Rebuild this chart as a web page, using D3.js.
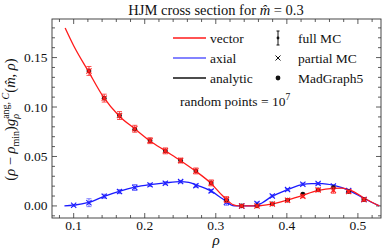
<!DOCTYPE html>
<html>
<head>
<meta charset="utf-8">
<script src="https://cdn.jsdelivr.net/npm/d3@7"></script>
<style>
  body { margin: 0; background: #fff; }
  svg text { font-family: "Liberation Serif", "DejaVu Serif", serif; fill: #111; }
</style>
</head>
<body>
<svg id="chart" width="382" height="250"></svg>
<script>
// analytic curves
const vectorCurveX = [0.088, 0.1, 0.12, 0.142, 0.164, 0.186, 0.207, 0.229, 0.25, 0.271, 0.293, 0.31, 0.325, 0.332, 0.358, 0.378, 0.40, 0.42, 0.443, 0.465, 0.478, 0.49, 0.51, 0.53];
const vectorCurveY = [0.180, 0.162, 0.137, 0.110, 0.091, 0.078, 0.066, 0.0557, 0.046, 0.0355, 0.023, 0.010, 0.001, 0, 0, 0.0018, 0.0058, 0.0102, 0.0155, 0.0178, 0.018, 0.0158, 0.0075, 0];
const axialCurveX = [0.087, 0.1, 0.121, 0.142, 0.164, 0.186, 0.207, 0.229, 0.25, 0.262, 0.275, 0.293, 0.31, 0.326, 0.354, 0.365, 0.378, 0.40, 0.42, 0.435, 0.45, 0.465, 0.488, 0.51, 0.53];
const axialCurveY = [0, 0.0007, 0.0035, 0.0095, 0.0148, 0.019, 0.0215, 0.0233, 0.0245, 0.0238, 0.0205, 0.0152, 0.007, 0, 0, 0.003, 0.0092, 0.0162, 0.0212, 0.0226, 0.0226, 0.021, 0.0155, 0.007, 0];

// MC sample points
const rhoPoints = [0.1, 0.1215, 0.143, 0.1645, 0.186, 0.2075, 0.229, 0.2505, 0.272, 0.2935, 0.315, 0.3365, 0.358, 0.3795, 0.401, 0.4225, 0.444, 0.4655, 0.487, 0.5085];
const vectorMC = [null, 0.1365, 0.109, 0.0914, 0.078, 0.066, 0.0557, 0.0459, 0.0354, 0.0233, 0.0064, 0, 0, 0.002, 0.0058, 0.0098, 0.0162, 0.0159, 0.0145, 0.0064];
const vectorErr = [null, 0.0045, 0.004, 0.004, 0.0035, 0.003, 0.003, 0.0025, 0.003, 0.003, 0.003, 0.001, 0.001, 0.0015, 0.0015, 0.0015, 0.0015, 0.003, 0.0015, 0.0015];
const vectorMG5 = [null, 0.1365, 0.109, 0.0914, 0.0776, 0.066, 0.0557, 0.0459, 0.0354, 0.0233, 0.006, 0, 0, 0.002, 0.0058, 0.012, 0.0162, 0.0185, 0.0145, 0.0064];
const axialMC = [0.0007, 0.0033, 0.0098, 0.0145, 0.0186, 0.0213, 0.023, 0.0246, 0.0205, 0.0152, 0.0037, 0, 0.0024, 0.0101, 0.0165, 0.022, 0.0226, 0.0202, 0.0155, 0.0064];
const axialErr = [0.0005, 0.004, 0.002, 0.002, 0.003, 0.0015, 0.0015, 0.0012, 0.0015, 0.0015, 0.003, 0.001, 0.0015, 0.001, 0.001, 0.001, 0.001, 0.001, 0.001, 0.001];

const xTicks = [0.1, 0.2, 0.3, 0.4, 0.5];
const yTicks = [0, 0.05, 0.10, 0.15];

const svg = d3.select('#chart');
const pLeft = 52, pRight = 381, pTop = 19, pBottom = 218;

const x = d3.scaleLinear().domain([0.0695, 0.5325]).range([pLeft, pRight]);
const y = d3.scaleLinear().domain([-0.0122, 0.189]).range([pBottom, pTop]);

// title
svg.append('text')
    .attr('x', 216).attr('y', 15)
    .attr('text-anchor', 'middle')
    .style('font-size', '14.5px')
    .html('HJM cross section for <tspan font-style="italic">m\u0302</tspan> = 0.3');

// frame ticks, inward on all four sides
const minorX = d3.range(0.08, 0.531, 0.02);
const minorY = d3.range(-0.01, 0.1891, 0.01);
const tickG = svg.append('g').attr('stroke', '#333').attr('stroke-width', 0.8);
minorX.forEach(v => {
    const major = xTicks.some(t => Math.abs(t - v) < 1e-6);
    const len = major ? 5 : 3;
    tickG.append('line').attr('x1', x(v)).attr('x2', x(v)).attr('y1', pBottom).attr('y2', pBottom - len);
    tickG.append('line').attr('x1', x(v)).attr('x2', x(v)).attr('y1', pTop).attr('y2', pTop + len);
});
minorY.forEach(v => {
    const major = yTicks.some(t => Math.abs(t - v) < 1e-6);
    const len = major ? 5 : 3;
    tickG.append('line').attr('y1', y(v)).attr('y2', y(v)).attr('x1', pLeft).attr('x2', pLeft + len);
    tickG.append('line').attr('y1', y(v)).attr('y2', y(v)).attr('x1', pRight).attr('x2', pRight - len);
});

svg.append('rect')
    .attr('x', pLeft).attr('y', pTop)
    .attr('width', pRight - pLeft).attr('height', pBottom - pTop)
    .attr('fill', 'none').attr('stroke', '#333').attr('stroke-width', 0.9);

// tick labels
svg.selectAll('.xl').data(xTicks).enter().append('text')
    .attr('x', d => x(d)).attr('y', 229.5)
    .attr('text-anchor', 'middle')
    .style('font-size', '13.5px')
    .text(d => d3.format('.1f')(d));
svg.selectAll('.yl').data(yTicks).enter().append('text')
    .attr('x', pLeft - 4.5).attr('y', d => y(d) + 4.5)
    .attr('text-anchor', 'end')
    .style('font-size', '13.5px')
    .text(d => d3.format('.2f')(d));

// axis labels
svg.append('text')
    .attr('x', 216).attr('y', 245)
    .attr('text-anchor', 'middle')
    .style('font-size', '15px').style('font-style', 'italic')
    .text('ρ');

const yl = svg.append('text')
    .attr('transform', 'translate(15,' + ((pTop + pBottom) / 2 + 1) + ') rotate(-90)')
    .attr('text-anchor', 'middle')
    .style('font-size', '14.5px');
yl.append('tspan').text('(');
yl.append('tspan').attr('font-style', 'italic').text('ρ');
yl.append('tspan').text(' − ');
yl.append('tspan').attr('font-style', 'italic').text('ρ');
yl.append('tspan').attr('dy', 3.5).style('font-size', '10px').text('min');
yl.append('tspan').attr('dy', -3.5).text(')');
yl.append('tspan').attr('font-style', 'italic').text('g');
const sup = yl.append('tspan').attr('dy', -6).style('font-size', '10px').text('ang, ');
const supC = yl.append('tspan').style('font-size', '10px').attr('font-style', 'italic').text('C');
const supW = sup.node().getComputedTextLength() + supC.node().getComputedTextLength();
const sub = yl.append('tspan').attr('dy', 10).attr('dx', -supW).style('font-size', '10px').attr('font-style', 'italic').text('ρ');
const subW = sub.node().getComputedTextLength();
yl.append('tspan').attr('dy', -4).attr('dx', supW - subW).text('(');
yl.append('tspan').attr('font-style', 'italic').text('m\u0302');
yl.append('tspan').text(', ');
yl.append('tspan').attr('font-style', 'italic').text('ρ');
yl.append('tspan').text(')');

// curves
const line = d3.line().x(d => x(d[0])).y(d => y(d[1])).curve(d3.curveMonotoneX);
const plot = svg.append('g');
plot.append('path')
    .attr('d', line(d3.zip(axialCurveX, axialCurveY)))
    .attr('fill', 'none').attr('stroke', '#1a1aff').attr('stroke-width', 1.3);
plot.append('path')
    .attr('d', line(d3.zip(vectorCurveX, vectorCurveY)))
    .attr('fill', 'none').attr('stroke', '#ff1a1a').attr('stroke-width', 1.3);

// error bars + crosses
function drawSeries(vals, errs, barColor, crossColor) {
    const g = plot.append('g');
    rhoPoints.forEach((r, i) => {
        if (vals[i] == null) return;
        const cx = x(r), cy = y(vals[i]);
        const y0 = y(vals[i] - errs[i]), y1 = y(vals[i] + errs[i]);
        g.append('line').attr('x1', cx).attr('x2', cx).attr('y1', y0).attr('y2', y1)
            .attr('stroke', barColor).attr('stroke-width', 1.2);
        [y0, y1].forEach(yy => g.append('line')
            .attr('x1', cx - 2.5).attr('x2', cx + 2.5).attr('y1', yy).attr('y2', yy)
            .attr('stroke', barColor).attr('stroke-width', 1));
        g.append('circle').attr('cx', cx).attr('cy', cy).attr('r', 1.6).attr('fill', barColor);
        g.append('path')
            .attr('d', `M${cx - 2.6},${cy - 2.6}L${cx + 2.6},${cy + 2.6}M${cx - 2.6},${cy + 2.6}L${cx + 2.6},${cy - 2.6}`)
            .attr('stroke', crossColor).attr('stroke-width', 1.1);
    });
}
drawSeries(axialMC, axialErr, 'rgba(90,90,255,0.75)', '#1a1aff');
plot.append('g').selectAll('circle')
    .data(rhoPoints.map((r, i) => [r, vectorMG5[i]]).filter(d => d[1] != null))
    .enter().append('circle')
    .attr('cx', d => x(d[0])).attr('cy', d => y(d[1]))
    .attr('r', 2.4).attr('fill', '#111');
drawSeries(vectorMC, vectorErr, 'rgba(255,40,40,0.8)', '#ff1a1a');

// legend
const legend = svg.append('g').style('font-size', '13.5px');
const legLines = [['vector', '#ff1a1a'], ['axial', '#5a5aff'], ['analytic', '#111']];
legLines.forEach((d, i) => {
    const ly = 38 + i * 20;
    legend.append('line').attr('x1', 173).attr('x2', 206).attr('y1', ly).attr('y2', ly)
        .attr('stroke', d[1]).attr('stroke-width', 1.3);
    legend.append('text').attr('x', 210).attr('y', ly + 4.5).text(d[0]);
});
const sx = 278;
legend.append('line').attr('x1', sx).attr('x2', sx).attr('y1', 31).attr('y2', 45).attr('stroke', '#111').attr('stroke-width', 1);
legend.append('line').attr('x1', sx - 1.5).attr('x2', sx + 1.5).attr('y1', 31).attr('y2', 31).attr('stroke', '#111');
legend.append('line').attr('x1', sx - 1.5).attr('x2', sx + 1.5).attr('y1', 45).attr('y2', 45).attr('stroke', '#111');
legend.append('circle').attr('cx', sx).attr('cy', 38).attr('r', 1.4).attr('fill', '#111');
legend.append('path').attr('d', `M${sx - 2.5},${55.5}L${sx + 2.5},${60.5}M${sx - 2.5},${60.5}L${sx + 2.5},${55.5}`)
    .attr('stroke', '#111').attr('stroke-width', 1);
legend.append('circle').attr('cx', sx).attr('cy', 78).attr('r', 2.4).attr('fill', '#111');
['full MC', 'partial MC', 'MadGraph5'].forEach((t, i) => {
    legend.append('text').attr('x', 298).attr('y', 42.5 + i * 20).text(t);
});
const rp = legend.append('text').attr('x', 180).attr('y', 106);
rp.append('tspan').text('random points = 10');
rp.append('tspan').attr('dy', -6).style('font-size', '9.5px').text('7');
</script>
</body>
</html>
